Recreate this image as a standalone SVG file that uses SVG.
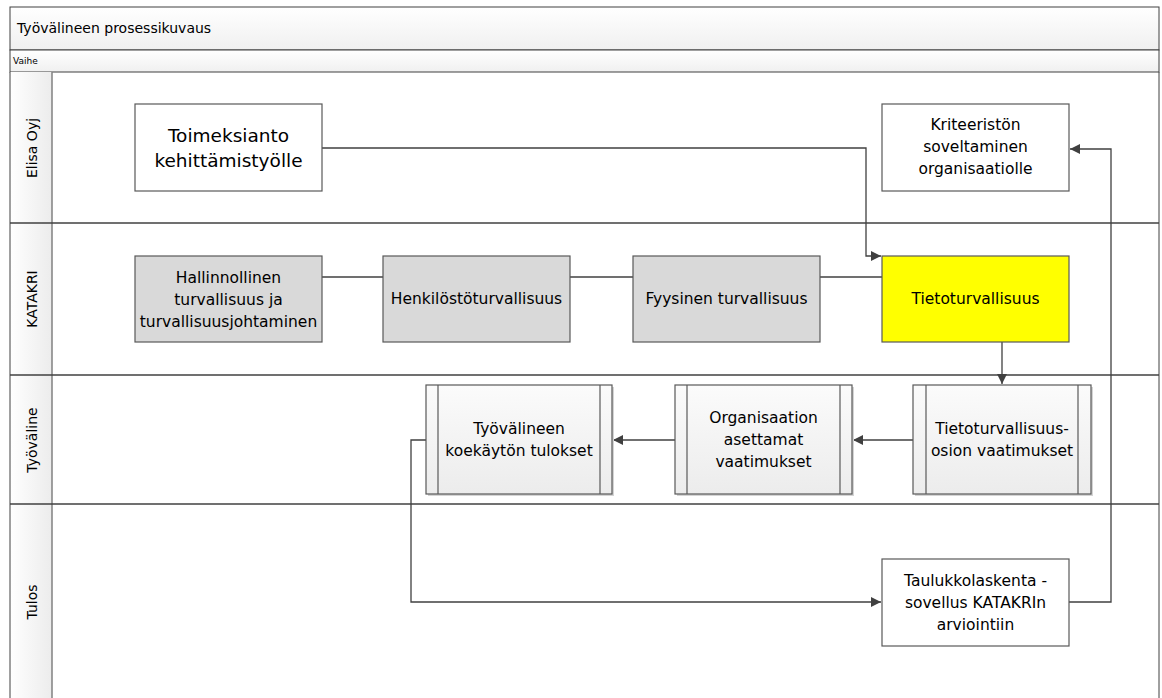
<svg xmlns="http://www.w3.org/2000/svg" width="1162" height="698" viewBox="0 0 1162 698">
<defs>
<linearGradient id="hdr" x1="0" y1="0" x2="1" y2="0"><stop offset="0" stop-color="#ffffff"/><stop offset="1" stop-color="#ececec"/></linearGradient>
<linearGradient id="band" x1="0" y1="0" x2="0" y2="1"><stop offset="0" stop-color="#ffffff"/><stop offset="1" stop-color="#f0f0f0"/></linearGradient>
<linearGradient id="sub" x1="0" y1="0" x2="0" y2="1"><stop offset="0" stop-color="#fbfbfb"/><stop offset="1" stop-color="#ececec"/></linearGradient>
<marker id="arr" viewBox="0 0 10 10" refX="10" refY="5" markerWidth="10" markerHeight="10" markerUnits="userSpaceOnUse" orient="auto"><path d="M0,0 L10,5 L0,10 z" fill="#404040"/></marker>
</defs>
<style>
text{font-family:"DejaVu Sans","Liberation Sans",sans-serif;fill:#000}
.n{font-size:15.5px;text-anchor:middle}
.big{font-size:18.5px}
.box{stroke:#595959;stroke-width:1.2}
.lane{fill:none;stroke:#404040;stroke-width:1.5}
.con{fill:none;stroke:#404040;stroke-width:1.3}
.lbl{font-size:14px;text-anchor:middle}
.shd{fill:#d4d4d4}
</style>
<rect width="1162" height="698" fill="#ffffff"/>
<g id="pool">
<rect x="10" y="7" width="1149" height="43" fill="url(#band)" stroke="#404040" stroke-width="1"/>
<text x="17" y="33" font-size="14">Työvälineen prosessikuvaus</text>
<rect x="10" y="50" width="1149" height="22" fill="url(#band)" stroke="#404040" stroke-width="1"/>
<text x="13" y="64" font-size="9">Vaihe</text>
<rect x="10" y="72" width="42" height="630" fill="url(#hdr)"/>
<line x1="10" y1="72" x2="10" y2="700" stroke="#404040" stroke-width="1"/>
<line x1="52" y1="72" x2="52" y2="700" stroke="#808080" stroke-width="1.5"/>
<line x1="1159" y1="72" x2="1159" y2="700" stroke="#404040" stroke-width="1"/>
<line class="lane" x1="10" y1="223" x2="1159" y2="223" stroke-width="1"/>
<line class="lane" x1="10" y1="375" x2="1159" y2="375"/>
<line class="lane" x1="10" y1="504" x2="1159" y2="504"/>
<text class="lbl" transform="translate(37,148) rotate(-90)">Elisa Oyj</text>
<text class="lbl" transform="translate(37,299) rotate(-90)">KATAKRI</text>
<text class="lbl" transform="translate(37,440) rotate(-90)">Työväline</text>
<text class="lbl" transform="translate(37,602) rotate(-90)">Tulos</text>
</g>
<g id="connectors">
<polyline class="con" points="322,148 866,148 866,256 881,256" marker-end="url(#arr)"/>
<line class="con" x1="322" y1="277" x2="383" y2="277"/>
<line class="con" x1="570" y1="277" x2="633" y2="277"/>
<line class="con" x1="820" y1="277" x2="882" y2="277"/>
<line class="con" x1="1002" y1="342" x2="1002" y2="384" marker-end="url(#arr)"/>
<line class="con" x1="913" y1="440" x2="853" y2="440" marker-end="url(#arr)"/>
<line class="con" x1="675" y1="440" x2="613" y2="440" marker-end="url(#arr)"/>
<polyline class="con" points="426,440 411,440 411,602 881,602" marker-end="url(#arr)"/>
<polyline class="con" points="1069,602 1111,602 1111,149 1070,149" marker-end="url(#arr)"/>
</g>
<g id="n-toimeksianto">
<rect class="box" x="135" y="104" width="187" height="87" fill="#ffffff"/>
<text class="n big" x="228.5" y="142">Toimeksianto</text>
<text class="n big" x="228.5" y="167">kehittämistyölle</text>
</g>
<g id="n-kriteeriston">
<rect class="box" x="882" y="104" width="187" height="87" fill="#ffffff"/>
<text class="n" x="975.5" y="130">Kriteeristön</text>
<text class="n" x="975.5" y="152">soveltaminen</text>
<text class="n" x="975.5" y="174">organisaatiolle</text>
</g>
<g id="n-hallinnollinen">
<rect class="box" x="135" y="256" width="187" height="86" fill="#d9d9d9"/>
<text class="n" x="228.5" y="283">Hallinnollinen</text>
<text class="n" x="228.5" y="305">turvallisuus ja</text>
<text class="n" x="228.5" y="327">turvallisuusjohtaminen</text>
</g>
<g id="n-henkilosto">
<rect class="box" x="383" y="256" width="187" height="86" fill="#d9d9d9"/>
<text class="n" x="476.5" y="304">Henkilöstöturvallisuus</text>
</g>
<g id="n-fyysinen">
<rect class="box" x="633" y="256" width="187" height="86" fill="#d9d9d9"/>
<text class="n" x="726.5" y="304">Fyysinen turvallisuus</text>
</g>
<g id="n-tietoturvallisuus">
<rect class="box" x="882" y="256" width="187" height="86" fill="#ffff00"/>
<text class="n" x="975.5" y="304">Tietoturvallisuus</text>
</g>
<g id="n-osion">
<rect class="shd" x="915" y="387" width="178" height="109"/>
<rect class="box" x="913" y="385" width="178" height="109" fill="url(#sub)"/>
<line class="box" x1="926" y1="385" x2="926" y2="494"/>
<line class="box" x1="1078" y1="385" x2="1078" y2="494"/>
<text class="n" x="1002" y="434">Tietoturvallisuus-</text>
<text class="n" x="1002" y="456">osion vaatimukset</text>
</g>
<g id="n-organisaation">
<rect class="shd" x="677" y="387" width="177" height="109"/>
<rect class="box" x="675" y="385" width="177" height="109" fill="url(#sub)"/>
<line class="box" x1="687" y1="385" x2="687" y2="494"/>
<line class="box" x1="840" y1="385" x2="840" y2="494"/>
<text class="n" x="763.5" y="423">Organisaation</text>
<text class="n" x="763.5" y="445">asettamat</text>
<text class="n" x="763.5" y="467">vaatimukset</text>
</g>
<g id="n-koekaytto">
<rect class="shd" x="428" y="387" width="186" height="109"/>
<rect class="box" x="426" y="385" width="186" height="109" fill="url(#sub)"/>
<line class="box" x1="438" y1="385" x2="438" y2="494"/>
<line class="box" x1="600" y1="385" x2="600" y2="494"/>
<text class="n" x="519" y="434">Työvälineen</text>
<text class="n" x="519" y="456">koekäytön tulokset</text>
</g>
<g id="n-taulukko">
<rect class="box" x="882" y="559" width="187" height="87" fill="#ffffff"/>
<text class="n" x="975.5" y="586">Taulukkolaskenta -</text>
<text class="n" x="975.5" y="608">sovellus KATAKRIn</text>
<text class="n" x="975.5" y="630">arviointiin</text>
</g>
</svg>
